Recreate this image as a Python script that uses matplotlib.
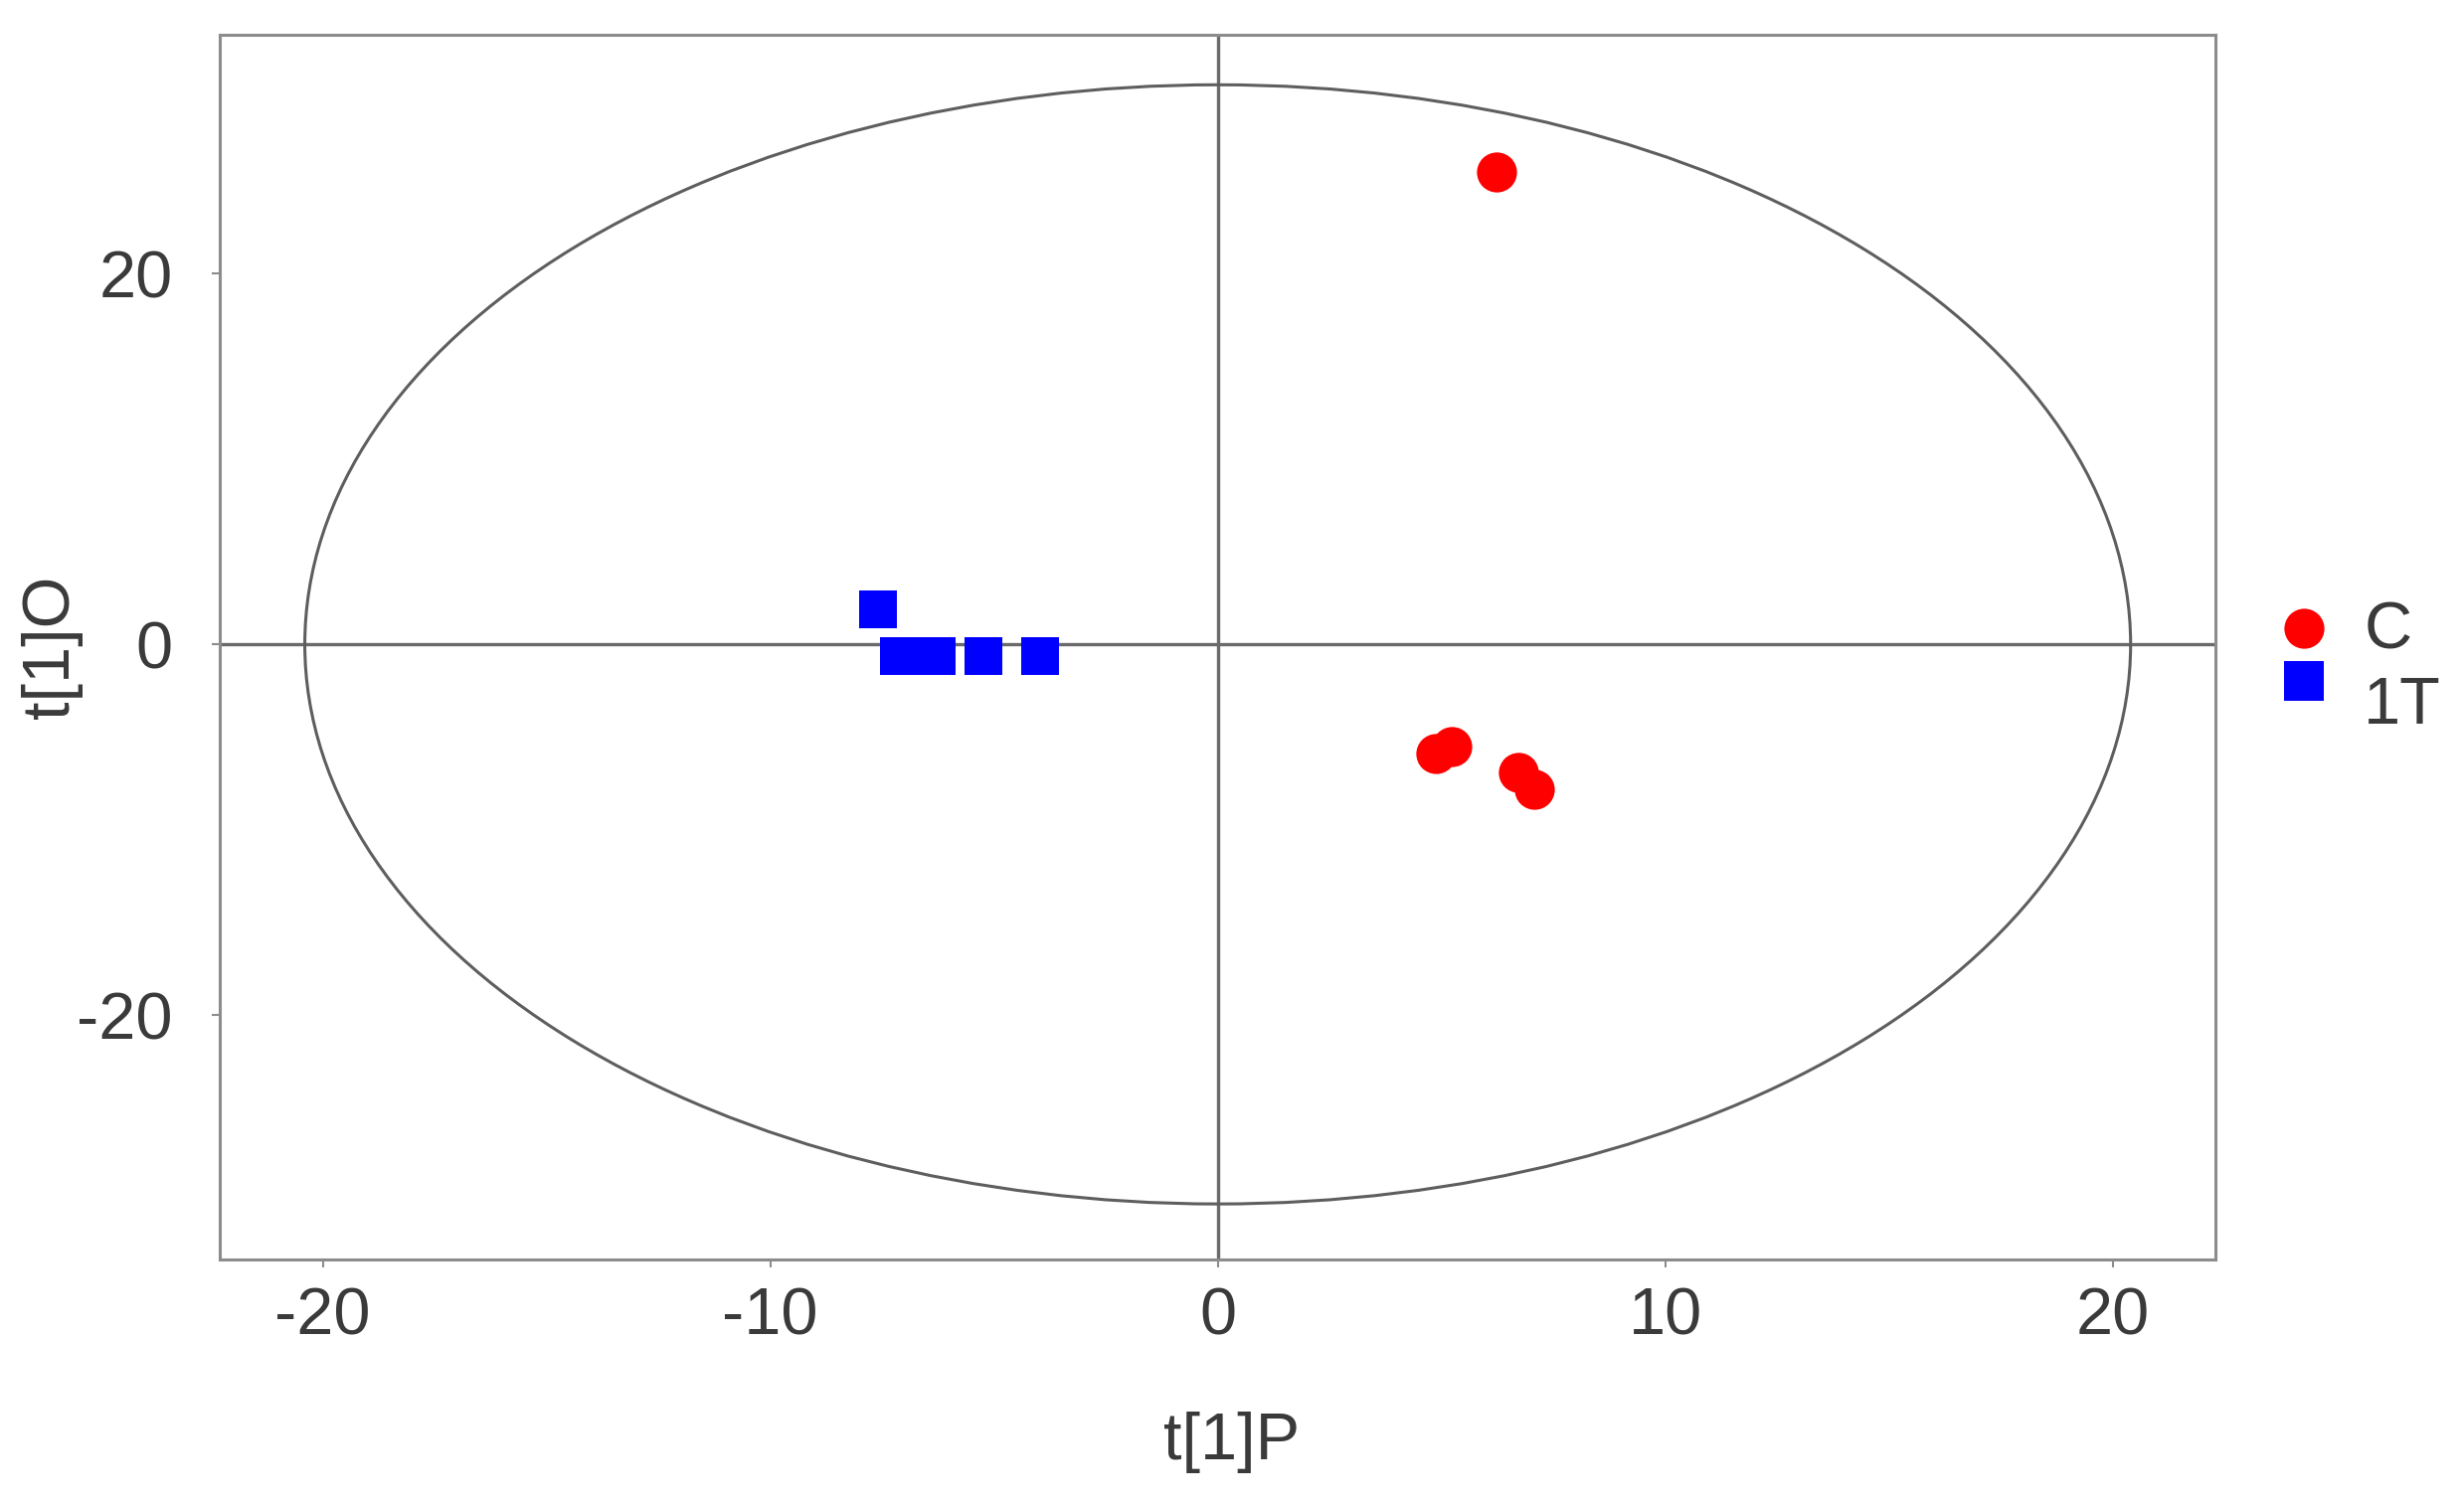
import matplotlib.pyplot as plt
from matplotlib.patches import Ellipse

plt.rcParams['font.family'] = ['Liberation Sans', 'DejaVu Sans']
plt.rcParams['axes.unicode_minus'] = False

# scores for group C
c_t1p = [6.22, 4.87, 5.24, 6.71, 7.07]
c_t1o = [25.5, -5.9, -5.5, -6.9, -7.8]

# scores for group 1T
t_t1p = [-7.59, -7.13, -6.29, -5.24, -3.97]
t_t1o = [1.9, -0.65, -0.65, -0.65, -0.65]

# Hotelling T2 ellipse semi axes
ell_a = 20.4
ell_b = 30.2

group_labels = ['C', '1T']
x_ticks = [-20, -10, 0, 10, 20]
y_ticks = [-20, 0, 20]

text_col = '#3a3a3a'
frame_col = '#8c8c8c'
line_col = '#6a6a6a'

fig = plt.figure(figsize=(24.78, 15.14), dpi=100)
ax = fig.add_axes([0.0892, 0.1631, 0.8100, 0.8138])

ax.axhline(0, color=line_col, lw=2.4, zorder=1)
ax.axvline(0, color=line_col, lw=2.4, zorder=1)
ax.add_patch(Ellipse((0, 0), 2 * ell_a, 2 * ell_b, fill=False,
                     edgecolor='#5e5e5e', lw=2.2, zorder=2))

ax.plot(c_t1p, c_t1o, 'o', color='#ff0000', markersize=29, markeredgewidth=0, zorder=3)
ax.plot(t_t1p, t_t1o, 's', color='#0000ff', markersize=27, markeredgewidth=0, zorder=3)

ax.set_xlim(-22.3, 22.3)
ax.set_ylim(-33.2, 32.9)
ax.set_xticks(x_ticks)
ax.set_yticks(y_ticks)
ax.tick_params(axis='both', direction='out', length=6, width=1.5,
               color=frame_col, labelcolor=text_col, labelsize=48)
ax.tick_params(axis='x', pad=14)
ax.tick_params(axis='y', pad=28)
for s in ax.spines.values():
    s.set_color(frame_col)
    s.set_linewidth(2.2)

ax.set_xlabel('t[1]P', fontsize=48, color=text_col)
ax.set_ylabel('t[1]O', fontsize=48, color=text_col)
ax.xaxis.set_label_coords(0.507, -0.124)
ax.yaxis.set_label_coords(-0.069, 0.5)

# legend drawn by hand, markers sit tighter than the text rows
ax.plot([1.0443], [0.5154], 'o', color='#ff0000', markersize=29, markeredgewidth=0,
        transform=ax.transAxes, clip_on=False)
ax.plot([1.0443], [0.4724], 's', color='#0000ff', markersize=29, markeredgewidth=0,
        transform=ax.transAxes, clip_on=False)
ax.text(1.0742, 0.4992, group_labels[0], transform=ax.transAxes, fontsize=48,
        color=text_col, va='baseline', ha='left')
ax.text(1.0742, 0.4375, group_labels[1], transform=ax.transAxes, fontsize=48,
        color=text_col, va='baseline', ha='left')

fig.savefig('out.png', dpi=100, facecolor='white')
